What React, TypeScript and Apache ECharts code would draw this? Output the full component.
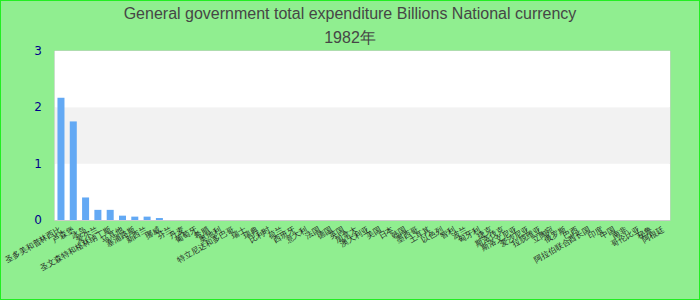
import React, { useEffect, useRef } from "react";
import * as echarts from "echarts";

const titleText = "General government total expenditure Billions National currency";
const subtitleText = "1982年";

const categories: string[] = [
  "圣多美和普林西比", "卢森堡", "冰岛", "爱尔兰", "圣文森特和格林纳丁斯",
  "马耳他", "塞浦路斯", "新西兰", "挪威", "芬兰",
  "丹麦", "葡萄牙", "希腊", "奥地利", "特立尼达和多巴哥",
  "瑞士", "瑞典", "比利时", "荷兰", "西班牙",
  "意大利", "法国", "德国", "英国", "加拿大",
  "澳大利亚", "美国", "日本", "韩国", "墨西哥",
  "土耳其", "以色列", "智利", "波兰", "匈牙利",
  "捷克", "斯洛伐克", "斯洛文尼亚", "爱沙尼亚", "拉脱维亚",
  "立陶宛", "俄罗斯", "巴西", "阿拉伯联合酋长国", "印度",
  "中国", "南非", "哥伦比亚", "秘鲁", "阿根廷",
];

const values: number[] = [
  2.17, 1.75, 0.4, 0.18, 0.18, 0.077, 0.06, 0.06, 0.035, 0,
  0, 0, 0, 0, 0, 0, 0, 0, 0, 0,
  0, 0, 0, 0, 0, 0, 0, 0, 0, 0,
  0, 0, 0, 0, 0, 0, 0, 0, 0, 0,
  0, 0, 0, 0, 0, 0, 0, 0, 0, 0,
];

const yTicks = [0, 1, 2, 3];

export default function App() {
  const ref = useRef<HTMLDivElement>(null);
  useEffect(() => {
    if (!ref.current) return;
    const chart = echarts.init(ref.current, null, { renderer: "svg" });
    chart.setOption({
      animation: false,
      backgroundColor: "#90ee90",
      title: {
        text: titleText + "\n" + subtitleText,
        left: "center",
        top: 0,
        padding: [0, 5, 5, 5],
        textStyle: {
          color: "#464646",
          fontSize: 16,
          fontWeight: "normal",
          fontFamily: "Liberation Sans, Arial, sans-serif",
          lineHeight: 24,
        },
      },
      grid: {
        left: 49,
        right: 29,
        top: 50,
        bottom: 79,
        show: true,
        backgroundColor: "#ffffff",
        borderColor: "#cccccc",
        borderWidth: 1,
      },
      xAxis: {
        type: "category",
        data: categories,
        axisLine: { show: true, lineStyle: { color: "#cccccc" } },
        axisTick: { show: false },
        axisLabel: {
          interval: 0,
          rotate: 30,
          fontSize: 8,
          color: "#222222",
          margin: 9,
        },
      },
      yAxis: {
        type: "value",
        min: yTicks[0],
        max: yTicks[yTicks.length - 1],
        interval: 1,
        axisLine: { show: false },
        axisTick: { show: false },
        splitLine: { show: false },
        splitArea: { show: true, areaStyle: { color: ["#ffffff", "#f2f2f2"] } },
        axisLabel: {
          color: "#00008b",
          fontSize: 12,
          margin: 13,
          fontFamily: "DejaVu Sans, sans-serif",
        },
      },
      series: [
        {
          type: "bar",
          data: values,
          barCategoryGap: "43%",
          itemStyle: { color: "#63a9f4" },
        },
      ],
    });
    return () => chart.dispose();
  }, []);
  return (
    <div
      style={{
        position: "fixed",
        left: 0,
        top: 0,
        width: 700,
        height: 300,
        boxSizing: "border-box",
        border: "1px solid #22ee22",
      }}
    >
      <div ref={ref} style={{ width: 698, height: 298 }} />
    </div>
  );
}
